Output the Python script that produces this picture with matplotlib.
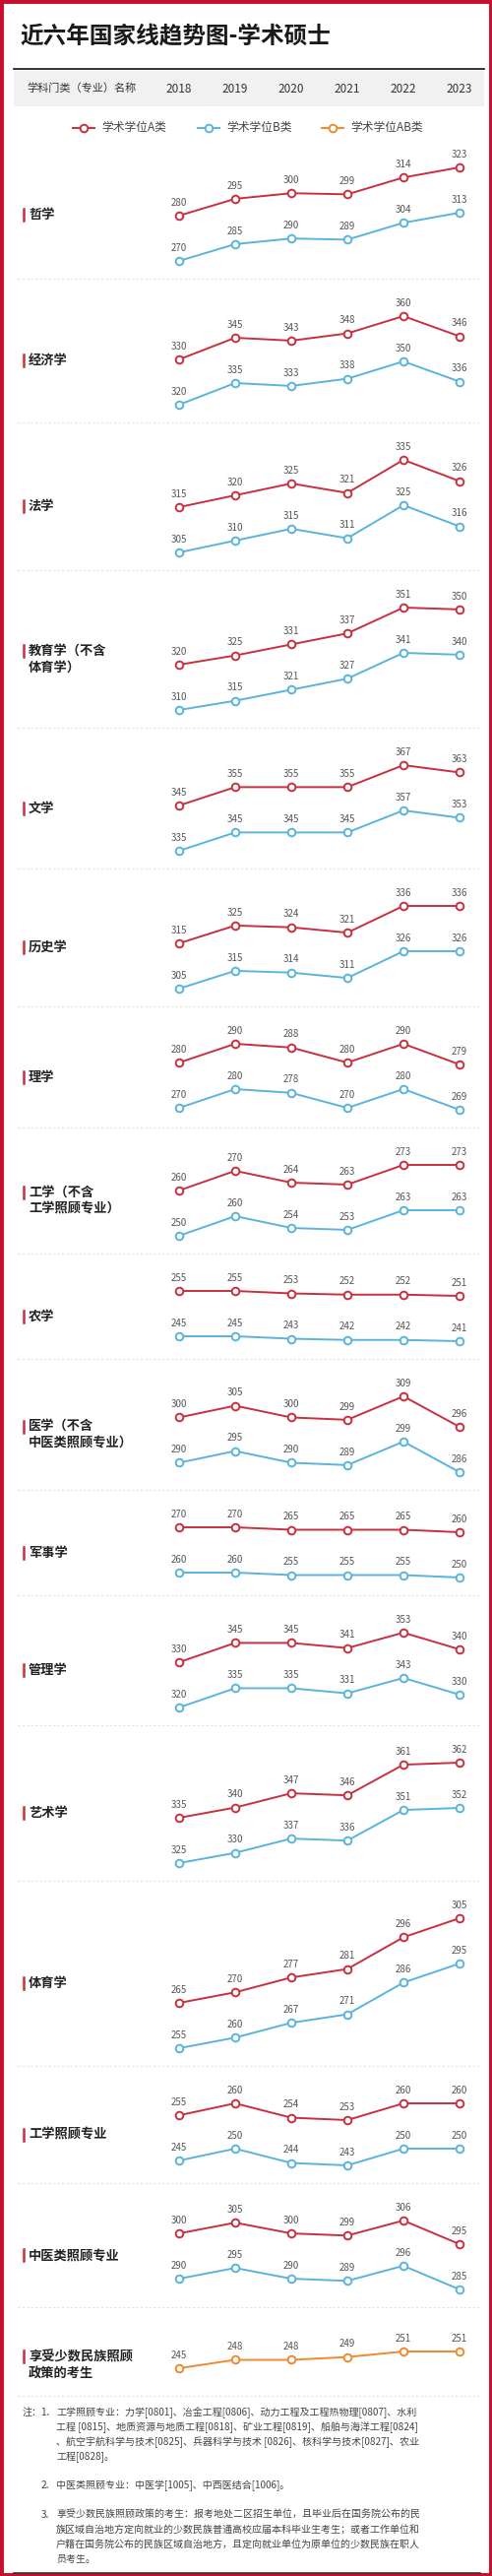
import matplotlib
matplotlib.use("Agg")
import matplotlib.pyplot as plt
from matplotlib.patches import Rectangle
from matplotlib.lines import Line2D

plt.rcParams['font.family'] = ['Noto Sans CJK SC', 'DejaVu Sans']

W, H = 500, 2616
RED = '#c8303f'
BLUE = '#5ab4dc'
ORANGE = '#ef8a30'

years = [2018, 2019, 2020, 2021, 2022, 2023]
categories = ['哲学', '经济学', '法学', '教育学（不含\n体育学）', '文学', '历史学', '理学',
              '工学（不含\n工学照顾专业）', '农学', '医学（不含\n中医类照顾专业）', '军事学',
              '管理学', '艺术学', '体育学', '工学照顾专业', '中医类照顾专业']
score_a = [
    [280, 295, 300, 299, 314, 323],
    [330, 345, 343, 348, 360, 346],
    [315, 320, 325, 321, 335, 326],
    [320, 325, 331, 337, 351, 350],
    [345, 355, 355, 355, 367, 363],
    [315, 325, 324, 321, 336, 336],
    [280, 290, 288, 280, 290, 279],
    [260, 270, 264, 263, 273, 273],
    [255, 255, 253, 252, 252, 251],
    [300, 305, 300, 299, 309, 296],
    [270, 270, 265, 265, 265, 260],
    [330, 345, 345, 341, 353, 340],
    [335, 340, 347, 346, 361, 362],
    [265, 270, 277, 281, 296, 305],
    [255, 260, 254, 253, 260, 260],
    [300, 305, 300, 299, 306, 295],
]
score_b = [
    [270, 285, 290, 289, 304, 313],
    [320, 335, 333, 338, 350, 336],
    [305, 310, 315, 311, 325, 316],
    [310, 315, 321, 327, 341, 340],
    [335, 345, 345, 345, 357, 353],
    [305, 315, 314, 311, 326, 326],
    [270, 280, 278, 270, 280, 269],
    [250, 260, 254, 253, 263, 263],
    [245, 245, 243, 242, 242, 241],
    [290, 295, 290, 289, 299, 286],
    [260, 260, 255, 255, 255, 250],
    [320, 335, 335, 331, 343, 330],
    [325, 330, 337, 336, 351, 352],
    [255, 260, 267, 271, 286, 295],
    [245, 250, 244, 243, 250, 250],
    [290, 295, 290, 289, 296, 285],
]
minority_label = '享受少数民族照顾\n政策的考生'
score_ab = [245, 248, 248, 249, 251, 251]

# row boundaries in pixels (layout)
row_edges = [132, 283, 429, 579, 739, 882, 1022, 1145, 1273, 1380, 1513, 1620,
             1752, 1910, 2098, 2217, 2343, 2433]
X0, X1 = 182, 467

fig = plt.figure(figsize=(W / 100, H / 100), dpi=100)
fig.patch.set_facecolor('white')


def fx(x):
    return x / W


def fy(y):
    return 1 - y / H


def add_px_axes(x, y, w, h):
    ax = fig.add_axes([fx(x), fy(y + h), w / W, h / H])
    ax.set_axis_off()
    ax.set_xlim(years[0], years[-1])
    return ax


def draw_series(ax, vals, color):
    ax.plot(years, vals, color=color, lw=1.4, marker='o', ms=5.5, mfc='white',
            mec=color, mew=1.4, clip_on=False, zorder=3)
    lo, hi = min(vals), max(vals)
    if hi == lo:
        hi = lo + 1
    ax.set_ylim(lo, hi)
    for x, v in zip(years, vals):
        ax.annotate(str(v), (x, v), xytext=(0, 6), textcoords='offset points',
                    ha='center', va='bottom', fontsize=7, color='#555555',
                    annotation_clip=False)


# border
fig.add_artist(Rectangle((0, 0), 1, 1, transform=fig.transFigure, fill=False,
                         ec='#c8102e', lw=5))

# title & header
fig.text(fx(20), fy(37), '近六年国家线趋势图-学术硕士', fontsize=17, fontweight='bold',
         va='center', ha='left', color='#1a1a1a')
fig.add_artist(Line2D([fx(14), fx(492)], [fy(70), fy(70)], color='#111111', lw=1.2))
fig.add_artist(Rectangle((fx(14), fy(108)), (492 - 14) / W, 36 / H,
                         transform=fig.transFigure, fc='#f1f1f1', ec='none'))
fig.text(fx(27), fy(90), '学科门类（专业）名称', fontsize=8, va='center', color='#333333')
for i, yr in enumerate(years):
    xp = X0 + (X1 - X0) * i / 5
    fig.text(fx(xp), fy(90), str(yr), fontsize=8.5, va='center', ha='center', color='#333333')

# legend
for xm, color, txt in [(85, RED, '学术学位A类'), (212, BLUE, '学术学位B类'), (338, ORANGE, '学术学位AB类')]:
    fig.add_artist(Line2D([fx(xm - 11), fx(xm + 11)], [fy(130), fy(130)], color=color, lw=1.4,
                          marker='o', markevery=[0], ms=0))
    fig.add_artist(Line2D([fx(xm)], [fy(130)], color=color, marker='o', ms=5.5, mfc='white',
                          mew=1.4, ls='none'))
    fig.text(fx(xm + 18), fy(130), txt, fontsize=8.5, va='center', color='#444444')

# rows
for i, name in enumerate(categories):
    top, bot = row_edges[i], row_edges[i + 1]
    h = max(bot - top - 102, 4)
    ya = top + 38
    ax_a = add_px_axes(X0, ya, X1 - X0, h)
    draw_series(ax_a, score_a[i], RED)
    ax_b = add_px_axes(X0, ya + 46, X1 - X0, h)
    draw_series(ax_b, score_b[i], BLUE)
    mid = ya + 23 + h / 2
    fig.text(fx(29), fy(mid), name, fontsize=9.5, fontweight='bold', va='center',
             ha='left', color='#222222', linespacing=1.25)
    nlines = name.count('\n') + 1
    bar_y = mid - (nlines - 1) * 8
    fig.add_artist(Line2D([fx(24), fx(24)], [fy(bar_y - 6), fy(bar_y + 6)], color=RED, lw=1.8))
    if i > 0:
        fig.add_artist(Line2D([fx(18), fx(487)], [fy(top), fy(top)], color='#e2e2e2',
                              lw=0.8, ls=(0, (2, 2))))

# minority row
top, bot = row_edges[-2], row_edges[-1]
fig.add_artist(Line2D([fx(18), fx(487)], [fy(top), fy(top)], color='#e2e2e2', lw=0.8, ls=(0, (2, 2))))
fig.add_artist(Line2D([fx(18), fx(487)], [fy(bot), fy(bot)], color='#e2e2e2', lw=0.8, ls=(0, (2, 2))))
ax_ab = add_px_axes(X0, top + 45, X1 - X0, 17)
draw_series(ax_ab, score_ab, ORANGE)
fig.text(fx(29), fy(top + 59), minority_label, fontsize=9.5, fontweight='bold', va='center',
         ha='left', color='#222222', linespacing=1.25)
fig.add_artist(Line2D([fx(24), fx(24)], [fy(top + 44), fy(top + 56)], color=RED, lw=1.8))

# notes
notes = [
    (2450, '注：1.', 23, ['工学照顾专业：力学[0801]、冶金工程[0806]、动力工程及工程热物理[0807]、水利',
                         '工程 [0815]、地质资源与地质工程[0818]、矿业工程[0819]、船舶与海洋工程[0824]',
                         '、航空宇航科学与技术[0825]、兵器科学与技术 [0826]、核科学与技术[0827]、农业',
                         '工程[0828]。']),
    (2524, '2.', 42, ['中医类照顾专业：中医学[1005]、中西医结合[1006]。']),
    (2554, '3.', 42, ['享受少数民族照顾政策的考生：报考地处二区招生单位，且毕业后在国务院公布的民',
                     '族区域自治地方定向就业的少数民族普通高校应届本科毕业生考生；或者工作单位和',
                     '户籍在国务院公布的民族区域自治地方，且定向就业单位为原单位的少数民族在职人',
                     '员考生。']),
]
for y0, head, hx, lines in notes:
    fig.text(fx(hx), fy(y0), head, fontsize=7.2, va='center', color='#444444')
    for k, ln in enumerate(lines):
        fig.text(fx(57), fy(y0 + k * 15), ln, fontsize=7.2, va='center', color='#444444')

fig.add_artist(Line2D([fx(14), fx(488)], [fy(2613), fy(2613)], color='#333333', lw=1.2))

fig.savefig('out.png', dpi=100)
